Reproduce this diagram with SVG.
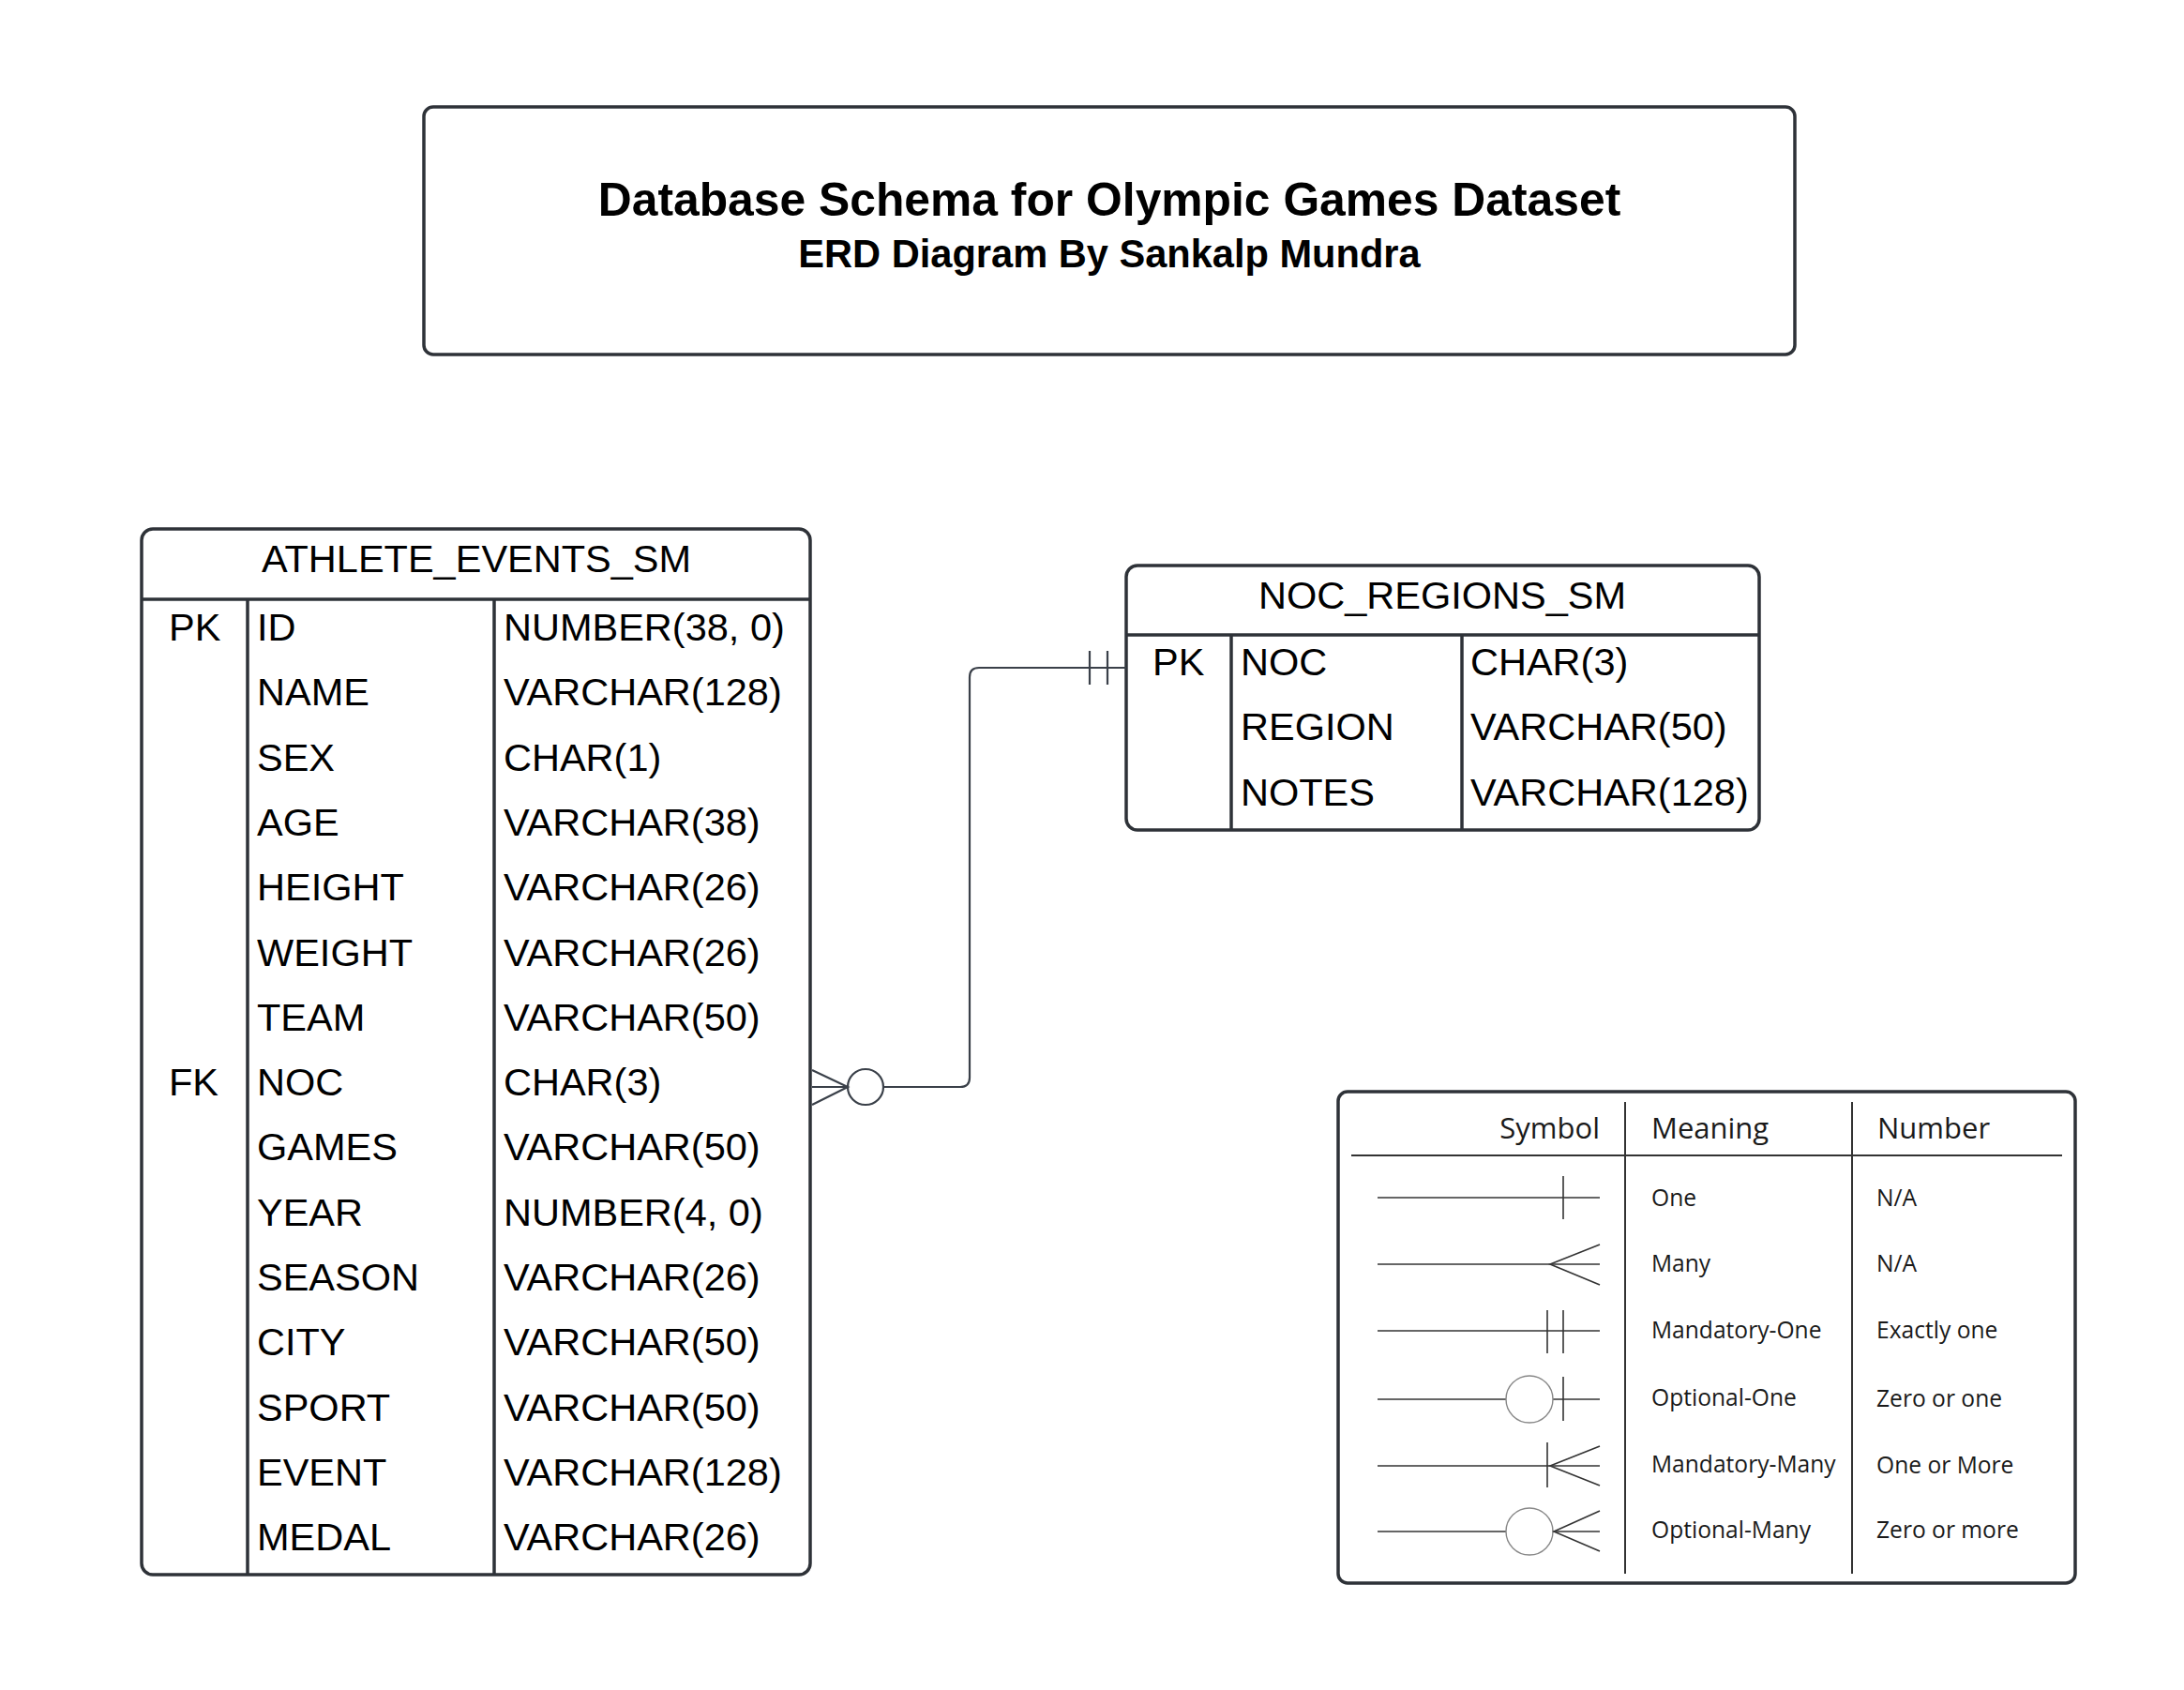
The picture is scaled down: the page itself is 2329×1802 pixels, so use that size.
<svg xmlns="http://www.w3.org/2000/svg" width="2329" height="1802" viewBox="0 0 2329 1802">
<style>
.box{fill:#fff;stroke:#2e3238;stroke-width:3.5}
.ln{stroke:#2e3238;stroke-width:3.5;fill:none}
.t{font-family:"Liberation Sans",Arial,sans-serif;font-size:41.5px;fill:#000}
.tb{font-family:"Liberation Sans",Arial,sans-serif;font-weight:bold;fill:#000;text-anchor:middle}
.con{stroke:#3a4049;stroke-width:2.2;fill:none}
.lg{font-family:"Open Sans","Noto Sans",sans-serif;fill:#1a1a1a}
.lh{font-size:31px}
.lr{font-size:24.6px}
.sym{stroke:#333;stroke-width:1.6;fill:none}
.circ{stroke:#888;stroke-width:1.4;fill:#fff}
.lgl{stroke:#333;stroke-width:2;fill:none}
</style>
<rect width="2329" height="1802" fill="#fff"/>

<g id="title">
<rect class="box" x="452" y="114" width="1462" height="264" rx="10"/>
<text class="tb" x="1183" y="230" font-size="49.8">Database Schema for Olympic Games Dataset</text>
<text class="tb" x="1183" y="285" font-size="41.6">ERD Diagram By Sankalp Mundra</text>
</g>

<g id="athlete_events_sm">
<rect class="box" x="151" y="564" width="713" height="1115" rx="12"/>
<line class="ln" x1="151" y1="639" x2="864" y2="639"/>
<line class="ln" x1="264" y1="639" x2="264" y2="1679"/>
<line class="ln" x1="527" y1="639" x2="527" y2="1679"/>
<text class="t" x="508" y="610" text-anchor="middle">ATHLETE_EVENTS_SM</text>
<text class="t" x="180" y="683">PK</text>
<text class="t" x="180" y="1168">FK</text>
<g class="t">
<text x="274" y="683">ID</text>
<text x="274" y="752">NAME</text>
<text x="274" y="822">SEX</text>
<text x="274" y="891">AGE</text>
<text x="274" y="960">HEIGHT</text>
<text x="274" y="1030">WEIGHT</text>
<text x="274" y="1099">TEAM</text>
<text x="274" y="1168">NOC</text>
<text x="274" y="1237">GAMES</text>
<text x="274" y="1307">YEAR</text>
<text x="274" y="1376">SEASON</text>
<text x="274" y="1445">CITY</text>
<text x="274" y="1515">SPORT</text>
<text x="274" y="1584">EVENT</text>
<text x="274" y="1653">MEDAL</text>
<text x="537" y="683">NUMBER(38, 0)</text>
<text x="537" y="752">VARCHAR(128)</text>
<text x="537" y="822">CHAR(1)</text>
<text x="537" y="891">VARCHAR(38)</text>
<text x="537" y="960">VARCHAR(26)</text>
<text x="537" y="1030">VARCHAR(26)</text>
<text x="537" y="1099">VARCHAR(50)</text>
<text x="537" y="1168">CHAR(3)</text>
<text x="537" y="1237">VARCHAR(50)</text>
<text x="537" y="1307">NUMBER(4, 0)</text>
<text x="537" y="1376">VARCHAR(26)</text>
<text x="537" y="1445">VARCHAR(50)</text>
<text x="537" y="1515">VARCHAR(50)</text>
<text x="537" y="1584">VARCHAR(128)</text>
<text x="537" y="1653">VARCHAR(26)</text>
</g>
</g>

<g id="noc_regions_sm">
<rect class="box" x="1201" y="603" width="675" height="282" rx="12"/>
<line class="ln" x1="1201" y1="677" x2="1876" y2="677"/>
<line class="ln" x1="1313" y1="677" x2="1313" y2="885"/>
<line class="ln" x1="1559" y1="677" x2="1559" y2="885"/>
<text class="t" x="1538" y="649" text-anchor="middle">NOC_REGIONS_SM</text>
<text class="t" x="1229" y="720">PK</text>
<text class="t" x="1323" y="720">NOC</text>
<text class="t" x="1323" y="789">REGION</text>
<text class="t" x="1323" y="859">NOTES</text>
<text class="t" x="1568" y="720">CHAR(3)</text>
<text class="t" x="1568" y="789">VARCHAR(50)</text>
<text class="t" x="1568" y="859">VARCHAR(128)</text>
</g>

<g id="connectors">
<path class="con" d="M1201,712 H1044 Q1034,712 1034,722 V1149 Q1034,1159 1024,1159 H942"/>
<line class="con" x1="1162" y1="694" x2="1162" y2="730"/>
<line class="con" x1="1181" y1="694" x2="1181" y2="730"/>
<circle class="con" cx="923" cy="1159" r="19" fill="#fff"/>
<path class="con" d="M866,1141 L904,1159 L866,1178 M866,1159 H904"/>
</g>

<g id="legend">
<rect class="box" x="1427" y="1164" width="786" height="524" rx="10"/>
<line class="lgl" x1="1441" y1="1232" x2="2199" y2="1232"/>
<line class="lgl" x1="1733" y1="1175" x2="1733" y2="1678"/>
<line class="lgl" x1="1975" y1="1175" x2="1975" y2="1678"/>
<text class="lg lh" x="1706" y="1214" text-anchor="end">Symbol</text>
<text class="lg lh" x="1761" y="1214">Meaning</text>
<text class="lg lh" x="2002" y="1214">Number</text>

<g id="legend_symbols">
<line class="sym" x1="1469" y1="1277" x2="1706" y2="1277"/>
<line class="sym" x1="1667" y1="1254" x2="1667" y2="1300"/>

<line class="sym" x1="1469" y1="1348" x2="1706" y2="1348"/>
<path class="sym" d="M1706,1327 L1653,1348 L1706,1370"/>

<line class="sym" x1="1469" y1="1419" x2="1706" y2="1419"/>
<line class="sym" x1="1650" y1="1397" x2="1650" y2="1443"/>
<line class="sym" x1="1667" y1="1397" x2="1667" y2="1443"/>

<line class="sym" x1="1469" y1="1492" x2="1706" y2="1492"/>
<circle class="circ" cx="1631" cy="1492" r="25"/>
<line class="sym" x1="1667" y1="1468" x2="1667" y2="1515"/>

<line class="sym" x1="1469" y1="1563" x2="1706" y2="1563"/>
<line class="sym" x1="1650" y1="1538" x2="1650" y2="1586"/>
<path class="sym" d="M1706,1542 L1653,1563 L1706,1584"/>

<line class="sym" x1="1469" y1="1633" x2="1706" y2="1633"/>
<circle class="circ" cx="1631" cy="1633" r="25"/>
<path class="sym" d="M1706,1611 L1657,1633 L1706,1654"/>
</g>

<g class="lg lr">
<text x="1761" y="1286">One</text>
<text x="1761" y="1356">Many</text>
<text x="1761" y="1427">Mandatory-One</text>
<text x="1761" y="1499">Optional-One</text>
<text x="1761" y="1570">Mandatory-Many</text>
<text x="1761" y="1640">Optional-Many</text>
<text x="2001" y="1286">N/A</text>
<text x="2001" y="1356">N/A</text>
<text x="2001" y="1427">Exactly one</text>
<text x="2001" y="1500">Zero or one</text>
<text x="2001" y="1571">One or More</text>
<text x="2001" y="1640">Zero or more</text>
</g>
</g>
</svg>
